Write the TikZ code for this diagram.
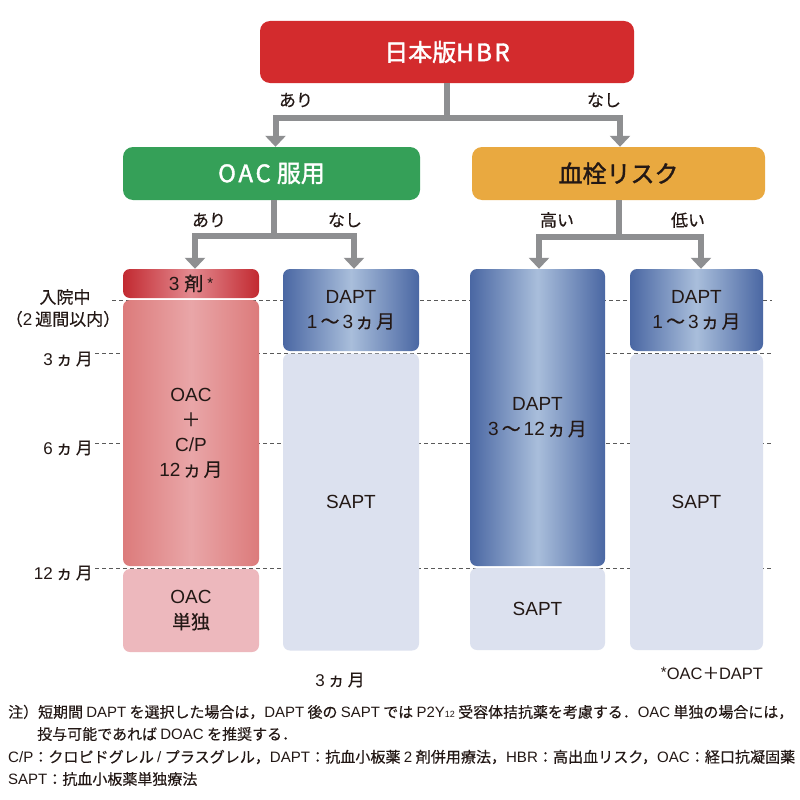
\documentclass[tikz,border=0pt]{standalone}
\usepackage{fontspec}
\setmainfont{Noto Sans CJK JP}[FakeBold=0.3]
\newfontfamily\hdfont{Noto Sans CJK JP}[FakeBold=1.6]
\newfontfamily\latfont{Liberation Sans}
\newcommand{\latn}[1]{{\latfont #1}}
\newcommand{\astr}{\raisebox{0.12em}{\latfont\fontsize{15}{15}\selectfont *}}
\usetikzlibrary{arrows.meta}
\definecolor{hbrred}{HTML}{D32B2D}
\definecolor{oacgreen}{HTML}{35A058}
\definecolor{riskorange}{HTML}{E9A940}
\definecolor{arrgray}{HTML}{8E8F91}
\definecolor{ink}{HTML}{231815}
\definecolor{rthreedark}{HTML}{C22A31}
\definecolor{rthreelight}{HTML}{E38A90}
\definecolor{rmdark}{HTML}{DC7B7B}
\definecolor{rmlight}{HTML}{E9A6A8}
\definecolor{rbot}{HTML}{EDB8BD}
\definecolor{bdark}{HTML}{4A67A3}
\definecolor{blight}{HTML}{A9BEDB}
\definecolor{saptfill}{HTML}{DCE1EF}
\definecolor{dashgray}{HTML}{595959}
\begin{document}
\begin{tikzpicture}[x=1pt,y=-1pt,
  hdr/.style={rounded corners=10pt, minimum height=53pt, inner sep=0pt, text=white,
    font=\hdfont\fontsize{24}{28}\selectfont},
  colbox/.style={rounded corners=7pt, inner sep=0pt, align=center, text=ink,
    font=\fontsize{19}{25}\selectfont},
  blueg/.style={left color=bdark, right color=bdark, middle color=blight},
  redg/.style={left color=rmdark, right color=rmdark, middle color=rmlight},
  redthree/.style={left color=rthreedark, right color=rthreedark, middle color=rthreelight},
  conn/.style={draw=arrgray, line width=6pt},
  arr/.style={conn, {Triangle[width=20pt,length=11pt]}-{Triangle[width=20pt,length=11pt]}},
  branch/.style={text=ink, font=\fontsize{17}{20}\selectfont, inner sep=0pt},
  tick/.style={text=ink, font=\fontsize{17}{21}\selectfont, inner sep=0pt},
  guide/.style={draw=dashgray, line width=1pt, dash pattern=on 4pt off 3pt},
  note/.style={text=ink, font=\fontsize{15}{20}\selectfont, inner sep=0pt, anchor=west}
]
\useasboundingbox (0,0) rectangle (800,800);
\fill[white] (0,0) rectangle (800,800);

% guide lines (behind boxes)
\coordinate (g0a) at (112,300); \coordinate (g0b) at (772,300);
\coordinate (g1a) at (95,353);  \coordinate (g1b) at (772,353);
\coordinate (g2a) at (95,443);  \coordinate (g2b) at (772,443);
\coordinate (g3a) at (95,568);  \coordinate (g3b) at (772,568);
\draw[guide] (g0a) -- (g0b);
\draw[guide] (g1a) -- (g1b);
\draw[guide] (g2a) -- (g2b);
\draw[guide] (g3a) -- (g3b);

% headers
\node[hdr, minimum width=374pt, minimum height=62pt, fill=hbrred] (hbr) at (447,52)
  {日本版H\kern2.5pt B\kern2.5pt R};
\node[hdr, minimum width=297pt, fill=oacgreen] (oac) at (271.5,173.5)
  {O\kern2.5pt A\kern2.5pt C\kern6pt 服用};
\node[hdr, minimum width=293pt, fill=riskorange, text=ink] (risk) at (618.5,173.5)
  {血栓リスク};

% columns
\node[colbox, redthree, minimum width=136pt, minimum height=29pt] (c1a) at (191,283.5)
  {\latn{3}\kern5pt 剤\kern4pt\astr};
\node[colbox, redg, minimum width=136pt, minimum height=266pt] (c1b) at (191,433)
  {\latn{OAC}\\＋\\\latn{C/P}\\\latn{12}\kern2pt ヵ\kern2pt 月};
\node[colbox, fill=rbot, minimum width=136pt, minimum height=83pt] (c1c) at (191,610.5)
  {\latn{OAC}\\単独};

\node[colbox, blueg, minimum width=136pt, minimum height=82pt] (c2a) at (351,310)
  {\latn{DAPT}\\\latn{1}\kern3pt ～\kern3pt\latn{3}\kern2pt ヵ\kern2pt 月};
\node[colbox, fill=saptfill, minimum width=136pt, minimum height=297pt] (c2b) at (351,502)
  {\latn{SAPT}};

\node[colbox, blueg, minimum width=135pt, minimum height=297pt] (c3a) at (537.5,417.5)
  {\latn{DAPT}\\\latn{3}\kern3pt ～\kern3pt\latn{12}\kern2pt ヵ\kern2pt 月};
\node[colbox, fill=saptfill, minimum width=135pt, minimum height=82pt] (c3b) at (537.5,609)
  {\latn{SAPT}};

\node[colbox, blueg, minimum width=133pt, minimum height=82pt] (c4a) at (696.5,310)
  {\latn{DAPT}\\\latn{1}\kern3pt ～\kern3pt\latn{3}\kern2pt ヵ\kern2pt 月};
\node[colbox, fill=saptfill, minimum width=133pt, minimum height=296pt] (c4b) at (696.5,502)
  {\latn{SAPT}};

% connectors
\coordinate (j0) at (447,118);
\draw[conn] (hbr.south) -- (j0);
\draw[arr] ([xshift=4pt]oac.north) |- (j0) -| ([xshift=1.5pt]risk.north);

\coordinate (j1) at (274,236);
\draw[conn] (j1 |- oac.south) -- (j1);
\draw[arr] ([xshift=4pt]c1a.north) |- (j1) -| ([xshift=3pt]c2a.north);

\coordinate (j2) at (619,237);
\draw[conn] (j2 |- risk.south) -- (j2);
\draw[arr] ([xshift=1.5pt]c3a.north) |- (j2) -| ([xshift=4.5pt]c4a.north);

% branch labels
\node[branch] (lb1) at (296,100) {あり};
\node[branch] (lb2) at (604,100) {なし};
\node[branch] (lb3) at (209,220) {あり};
\node[branch] (lb4) at (345,220) {なし};
\node[branch] (lb5) at (557,220) {高い};
\node[branch] (lb6) at (688,220) {低い};

% time labels
\node[tick] (t0) at (65,297) {入院中};
\node[tick] (t0b) at (63,319) {（\latn{2}\kern3pt 週間以内）};
\node[tick, anchor=east] (t1) at (93,359) {\latn{3}\kern3pt ヵ\kern3pt 月};
\node[tick, anchor=east] (t2) at (93,448) {\latn{6}\kern3pt ヵ\kern3pt 月};
\node[tick, anchor=east] (t3) at (93,573) {\latn{12}\kern3pt ヵ\kern3pt 月};

\node[tick] (b1) at (340,680) {\latn{3}\kern3pt ヵ\kern3pt 月};
\node[tick, font=\fontsize{16.5}{20}\selectfont] (b2) at (712,673)
  {\astr\latn{OAC}＋\latn{DAPT}};

% footnotes
\node[note] (n1) at (8,712)
  {\resizebox{785pt}{!}{注）短期間 \latn{DAPT} を選択した場合は，\latn{DAPT} 後の \latn{SAPT} では \latn{P2Y}{\latfont\fontsize{9}{9}\selectfont 12} 受容体拮抗薬を考慮する．\latn{OAC} 単独の場合には，}};
\node[note] (n2) at (37,734) {投与可能であれば \latn{DOAC} を推奨する．};
\node[note] (n3) at (8,757)
  {\resizebox{787pt}{!}{\latn{C/P}：クロピドグレル \latn{/} プラスグレル，\latn{DAPT}：抗血小板薬 \latn{2} 剤併用療法，\latn{HBR}：高出血リスク，\latn{OAC}：経口抗凝固薬}};
\node[note] (n4) at (8,779) {\latn{SAPT}：抗血小板薬単独療法};
\end{tikzpicture}
\end{document}
